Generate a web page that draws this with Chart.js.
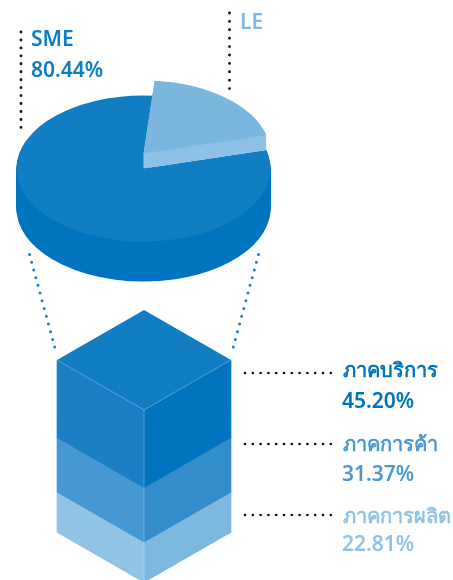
<!DOCTYPE html>
<html>
<head>
<meta charset="utf-8">
<style>
    html, body { margin: 0; padding: 0; background: #fff; }
    #page { position: relative; width: 453px; height: 580px; overflow: hidden; }
    canvas { position: absolute; left: 0; top: 0; }
    .lbl { position: absolute; white-space: nowrap; font-family: "Noto Sans", sans-serif; font-weight: 600; font-size: 21px; line-height: 24px; }
    .thai { font-size: 20px; }
</style>
</head>
<body>
<div id="page">
    <canvas id="cubeChart" width="453" height="580"></canvas>
    <canvas id="pieChart" width="453" height="300"></canvas>
</div>
<script src="https://cdn.jsdelivr.net/npm/chart.js@4/dist/chart.umd.js"></script>
<script>
    // Dados
    const pieLabels = ['LE', 'SME'];
    const pieValues = [19.56, 80.44];
    const sectorLabels = ['ภาคการผลิต', 'ภาคการค้า', 'ภาคบริการ'];
    const sectorValues = [22.81, 31.37, 45.20];

    // Cores
    const pieTop = ['#7ab6dd', '#117dc3'];
    const pieSide = ['#8dc1e5', '#0075bf'];
    const leftColors = ['#91c3e5', '#4698d2', '#1a7fc4'];
    const rightColors = ['#7db8de', '#338dcb', '#0075bf'];
    const cubeTop = '#117dc3';

    const squash = 0.575;   // achatamento da pizza e inclinação do cubo

    document.addEventListener('DOMContentLoaded', function() {
        initCube();
        initPie();
        addLabels();
    });

    // desenha um arco com outra cor, sem mexer nas opções do elemento
    function drawArc(ctx, arc, color, cx, cy, dy) {
        const saved = arc.options;
        arc.options = Object.assign({}, saved, { backgroundColor: color });
        ctx.save();
        ctx.translate(cx, cy + dy);
        ctx.scale(1, squash);
        ctx.translate(-cx, -cy);
        arc.draw(ctx);
        ctx.restore();
        arc.options = saved;
    }

    // Pizza 3D
    const pie3d = {
        id: 'pie3d',
        beforeDatasetsDraw(chart) {
            const ctx = chart.ctx;
            const arcs = chart.getDatasetMeta(0).data;
            const le = arcs[0], sme = arcs[1];
            const cx = sme.x, cy = sme.y;

            for (let d = 40; d > 0; d--) {
                drawArc(ctx, sme, pieSide[1], cx, cy, d);
            }
            drawArc(ctx, sme, pieTop[1], cx, cy, 0);

            // fatia LE levantada
            for (let d = 0; d > -15; d--) {
                drawArc(ctx, le, pieSide[0], cx, cy, d);
            }
            drawArc(ctx, le, pieTop[0], cx, cy, -15);
            return false;
        }
    };

    function initPie() {
        new Chart(document.getElementById('pieChart'), {
            type: 'pie',
            data: {
                labels: pieLabels,
                datasets: [{ data: pieValues, backgroundColor: pieTop, borderWidth: 0 }]
            },
            options: {
                responsive: false,
                animation: false,
                rotation: 5,
                layout: { padding: { left: 16.5, right: 182.5, top: 41.5, bottom: 4.5 } },
                plugins: { legend: { display: false }, tooltip: { enabled: false } }
            },
            plugins: [pie3d]
        });
    }

    function dottedLine(ctx, x1, y1, x2, y2, color, width, gap) {
        ctx.save();
        ctx.strokeStyle = color;
        ctx.lineWidth = width;
        ctx.lineCap = 'round';
        ctx.setLineDash([0, gap]);
        ctx.beginPath();
        ctx.moveTo(x1, y1);
        ctx.lineTo(x2, y2);
        ctx.stroke();
        ctx.restore();
    }

    // Cubo: cada face é uma pilha de barras inclinada
    const cube3d = {
        id: 'cube3d',
        beforeDatasetDraw(chart, args) {
            const ctx = chart.ctx;
            const area = chart.chartArea;
            const k = squash;
            ctx.save();
            if (chart.data.datasets[args.index].stack === 'left') {
                ctx.transform(1, k, 0, 1, 0, -k * area.left);
            } else {
                ctx.transform(1, -k, 0, 1, 0, k * area.right);
            }
        },
        afterDatasetDraw(chart) {
            chart.ctx.restore();
        },
        afterDatasetsDraw(chart) {
            const ctx = chart.ctx;
            const area = chart.chartArea;
            const yScale = chart.scales.y;
            const total = yScale.max;
            const mid = (area.left + area.right) / 2;
            const rise = (mid - area.left) * squash;
            const yTop = yScale.getPixelForValue(total);
            const yBase = yScale.getPixelForValue(0);

            // face de cima
            ctx.fillStyle = cubeTop;
            ctx.beginPath();
            ctx.moveTo(area.left, yTop);
            ctx.lineTo(mid, yTop - rise);
            ctx.lineTo(area.right, yTop);
            ctx.lineTo(mid, yTop + rise);
            ctx.closePath();
            ctx.fill();

            // arestas claras
            ctx.strokeStyle = 'rgba(255,255,255,0.22)';
            ctx.lineWidth = 1;
            ctx.beginPath();
            ctx.moveTo(area.left, yTop);
            ctx.lineTo(mid, yTop + rise);
            ctx.lineTo(area.right, yTop);
            ctx.moveTo(mid, yTop + rise);
            ctx.lineTo(mid, yBase + rise);
            ctx.stroke();

            // linhas pontilhadas
            const black = '#111';
            const blue = '#1a80c8';
            dottedLine(ctx, 21, 32, 21, 135, black, 2.9, 7.95);
            dottedLine(ctx, 229.5, 13, 229.5, 89, black, 2.9, 8.4);
            dottedLine(ctx, 29.5, 254.5, 56, 351.7, blue, 3, 8);
            dottedLine(ctx, 258.5, 254.5, 232, 351.7, blue, 3, 8);
            dottedLine(ctx, 245, 373, 333, 373, black, 2.7, 7.8);
            dottedLine(ctx, 245, 444, 333, 444, black, 2.7, 7.8);
            dottedLine(ctx, 245, 515, 333, 515, black, 2.7, 7.8);
        }
    };

    function initCube() {
        const datasets = [];
        sectorLabels.forEach(function(name, i) {
            datasets.push({ label: name, data: [sectorValues[i]], stack: 'left', backgroundColor: leftColors[i], clip: false, borderWidth: 0 });
        });
        sectorLabels.forEach(function(name, i) {
            datasets.push({ label: name, data: [sectorValues[i]], stack: 'right', backgroundColor: rightColors[i], clip: false, borderWidth: 0 });
        });

        new Chart(document.getElementById('cubeChart'), {
            type: 'bar',
            data: { labels: ['setor'], datasets: datasets },
            options: {
                responsive: false,
                animation: false,
                categoryPercentage: 1,
                barPercentage: 1,
                layout: { padding: { left: 57, right: 222, top: 360, bottom: 47.7 } },
                scales: {
                    x: { display: false },
                    y: {
                        display: false,
                        stacked: true,
                        min: 0,
                        max: sectorValues.reduce(function(a, b) { return a + b; }, 0)
                    }
                },
                plugins: { legend: { display: false }, tooltip: { enabled: false } }
            },
            plugins: [cube3d]
        });
    }

    // Textos
    function addText(text, x, baseline, color, thai) {
        const el = document.createElement('div');
        el.className = thai ? 'lbl thai' : 'lbl';
        el.textContent = text;
        el.style.left = x + 'px';
        el.style.top = (baseline - 19) + 'px';
        el.style.color = color;
        document.getElementById('page').appendChild(el);
    }

    function addLabels() {
        addText(pieLabels[1], 31, 45, '#0d7cc4');
        addText(pieValues[1].toFixed(2) + '%', 31, 76, '#0d7cc4');
        addText(pieLabels[0], 240, 28, '#7fb9e0');

        addText(sectorLabels[2], 343, 377, '#0075bf', true);
        addText(sectorValues[2].toFixed(2) + '%', 342, 407, '#0075bf');
        addText(sectorLabels[1], 343, 451, '#4a9ad3', true);
        addText(sectorValues[1].toFixed(2) + '%', 342, 480, '#4a9ad3');
        addText(sectorLabels[0], 343, 523, '#91c3e5', true);
        addText(sectorValues[0].toFixed(2) + '%', 342, 550, '#91c3e5');
    }
</script>
</body>
</html>
